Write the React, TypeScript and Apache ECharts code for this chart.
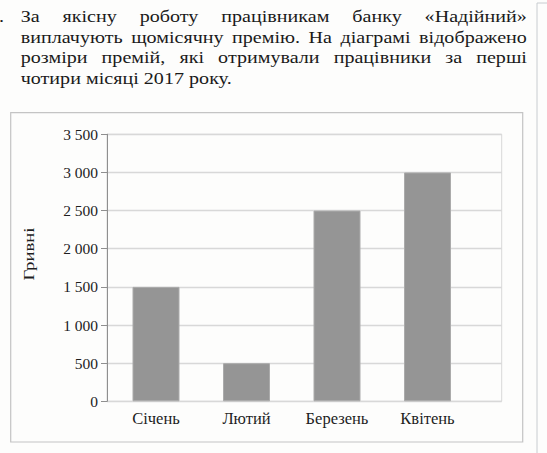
import React, { useEffect, useRef } from "react";
import * as echarts from "echarts";

const categories = ["Січень", "Лютий", "Березень", "Квітень"];
const premiums = [1500, 500, 2500, 3000];
const yMin = 0;
const yMax = 3500;
const yStep = 500;
const yAxisName = "Гривні";
const questionNumber = "7.";
const paragraphLines = [
  "За якісну роботу працівникам банку «Надійний»",
  "виплачують щомісячну премію. На діаграмі відображено",
  "розміри премій, які отримували працівники за перші",
  "чотири місяці 2017 року.",
];

const SERIF = "Liberation Serif";

function fmt(v: number): string {
  if (v >= 1000) {
    return `${Math.floor(v / 1000)} ${String(v % 1000).padStart(3, "0")}`;
  }
  return String(v);
}

function buildParagraph(): any[] {
  const fontSize = 16.5;
  const canvas = document.createElement("canvas");
  const ctx = canvas.getContext("2d")!;
  ctx.font = `${fontSize}px "${SERIF}"`;
  const left = 20.7;
  const right = 527;
  const lastLineWidth = 211;
  const lineYs = [16.2, 37.2, 57.8, 79];
  const last = paragraphLines[paragraphLines.length - 1];
  const sx = lastLineWidth / ctx.measureText(last).width;
  const els: any[] = [];
  paragraphLines.forEach((line, li) => {
    const words = line.split(" ");
    const widths = words.map((w) => ctx.measureText(w).width * sx);
    const total = widths.reduce((a, b) => a + b, 0);
    const justify = li < paragraphLines.length - 1;
    const space = ctx.measureText(" ").width * sx;
    const gap = justify ? (right - left - total) / (words.length - 1) : space;
    let x = left;
    words.forEach((w, i) => {
      els.push({
        type: "text",
        x,
        y: lineYs[li],
        scaleX: sx,
        style: {
          text: w,
          fontFamily: SERIF,
          fontSize,
          fill: "#1a1a1a",
          textAlign: "left",
          textVerticalAlign: "middle",
        },
      });
      x += widths[i] + gap;
    });
  });
  els.push({
    type: "text",
    x: 4,
    y: lineYs[0],
    scaleX: sx,
    style: {
      text: questionNumber,
      fontFamily: SERIF,
      fontSize,
      fill: "#1a1a1a",
      textAlign: "right",
      textVerticalAlign: "middle",
    },
  });
  return els;
}

export default function App() {
  const ref = useRef<HTMLDivElement>(null);
  useEffect(() => {
    if (!ref.current) return;
    const chart = echarts.init(ref.current, undefined, { renderer: "svg" });
    const gridTop = 134.3;
    const gridHeight = 267;
    chart.setOption({
      animation: false,
      backgroundColor: "#fdfdfc",
      grid: [
        {
          left: 107,
          top: gridTop,
          width: 394.7,
          height: gridHeight,
          show: true,
          borderColor: "#d8d8d8",
          borderWidth: 1,
          backgroundColor: "transparent",
        },
        {
          left: 110.75,
          top: gridTop,
          width: 362,
          height: gridHeight,
        },
      ],
      xAxis: [
        {
          gridIndex: 0,
          type: "category",
          data: categories,
          show: false,
        },
        {
          gridIndex: 1,
          type: "category",
          data: categories,
          axisLine: { show: false },
          axisTick: { show: false },
          axisLabel: {
            margin: 9,
            fontFamily: SERIF,
            fontSize: 16.5,
            color: "#1e1e1e",
          },
        },
      ],
      yAxis: [
        {
          gridIndex: 0,
          type: "value",
          min: yMin,
          max: yMax,
          interval: yStep,
          axisLine: { show: true, lineStyle: { color: "#8f8f8f", width: 1 } },
          axisTick: { show: true, length: 6, lineStyle: { color: "#8f8f8f" } },
          splitLine: { show: true, lineStyle: { color: "#d8d8d8", width: 1.3 } },
          axisLabel: {
            margin: 9,
            fontFamily: SERIF,
            fontSize: 15.5,
            color: "#1e1e1e",
            formatter: (v: number) => fmt(v),
          },
        },
        {
          gridIndex: 1,
          type: "value",
          min: yMin,
          max: yMax,
          interval: yStep,
          show: false,
        },
      ],
      series: [
        {
          type: "bar",
          xAxisIndex: 1,
          yAxisIndex: 1,
          data: premiums,
          barWidth: 47,
          itemStyle: { color: "#959595", borderColor: "#ababab", borderWidth: 1 },
        },
      ],
      graphic: [
        {
          type: "rect",
          shape: { x: 10.7, y: 112.7, width: 512, height: 329.3 },
          style: { fill: "none", stroke: "#c4c4c4", lineWidth: 1.2 },
          silent: true,
        },
        {
          type: "rect",
          shape: { x: 537, y: 3, width: 40, height: 470 },
          style: { fill: "none", stroke: "#c8ccd0", lineWidth: 1 },
          silent: true,
        },
        {
          type: "text",
          x: 28.7,
          y: 254,
          rotation: Math.PI / 2,
          scaleX: 1.25,
          style: {
            text: yAxisName,
            fontFamily: SERIF,
            fontSize: 15,
            fill: "#1e1e1e",
            textAlign: "center",
            textVerticalAlign: "middle",
          },
        },
        ...buildParagraph(),
      ],
    });
    return () => chart.dispose();
  }, []);
  return (
    <div
      ref={ref}
      style={{ width: 547, height: 453, position: "fixed", left: 0, top: 0 }}
    />
  );
}
